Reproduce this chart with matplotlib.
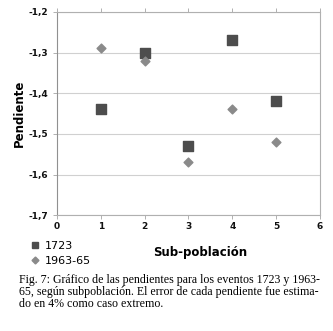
import matplotlib
matplotlib.use("Agg")
import matplotlib.pyplot as plt
from matplotlib.lines import Line2D

# sub-population index and slopes per event
subpob = [1, 2, 3, 4, 5]
pend_1723 = [-1.44, -1.30, -1.53, -1.27, -1.42]
pend_1963 = [-1.29, -1.32, -1.57, -1.44, -1.52]
yticks = [-1.2, -1.3, -1.4, -1.5, -1.6, -1.7]
ytick_labels = ["-1,2", "-1,3", "-1,4", "-1,5", "-1,6", "-1,7"]
xticks = [0, 1, 2, 3, 4, 5, 6]

fig = plt.figure(figsize=(3.33, 3.31), dpi=100)
ax = fig.add_axes([0.171, 0.350, 0.790, 0.614])

ax.scatter(subpob, pend_1723, marker="s", s=42, color="#4d4d4d", zorder=3)
ax.scatter(subpob, pend_1963, marker="D", s=20, color="#8a8a8a", zorder=3)

ax.set_xlim(0, 6)
ax.set_ylim(-1.7, -1.2)
ax.set_xticks(xticks)
ax.set_yticks(yticks)
ax.set_yticklabels(ytick_labels)
ax.grid(axis="y", color="#d0d0d0", lw=0.8)
ax.set_axisbelow(True)
for s in ax.spines.values():
    s.set_color("#b0b0b0")
    s.set_linewidth(0.8)
ax.spines["left"].set_color("#909090")
ax.tick_params(axis="both", labelsize=6.5, colors="#b0b0b0", length=3,
               labelcolor="#111111", width=0.7)
ax.tick_params(axis="x", top=True, direction="out", pad=2)
for lab in ax.get_xticklabels() + ax.get_yticklabels():
    lab.set_fontweight("bold")

ax.set_ylabel("Pendiente", fontsize=8.5, fontweight="bold", labelpad=2)
fig.text(0.60, 0.236, "Sub-población", fontsize=8.5, fontweight="bold",
         ha="center", va="center")

handles = [
    Line2D([], [], ls="none", marker="s", ms=5, color="#4d4d4d", label="1723"),
    Line2D([], [], ls="none", marker="D", ms=3.5, color="#8a8a8a", label="1963-65"),
]
fig.legend(handles=handles, loc="upper left", bbox_to_anchor=(0.075, 0.29),
           frameon=False, fontsize=8, handlelength=0.8, handletextpad=0.5,
           labelspacing=0.45, borderpad=0)

caption = ("Fig. 7: Gráfico de las pendientes para los eventos 1723 y 1963-\n"
           "65, según subpoblación. El error de cada pendiente fue estima-\n"
           "do en 4% como caso extremo.")
fig.text(0.058, 0.172, caption, fontsize=8.6, family="Liberation Serif",
         ha="left", va="top", linespacing=1.0)

fig.savefig("out.png", dpi=100)
